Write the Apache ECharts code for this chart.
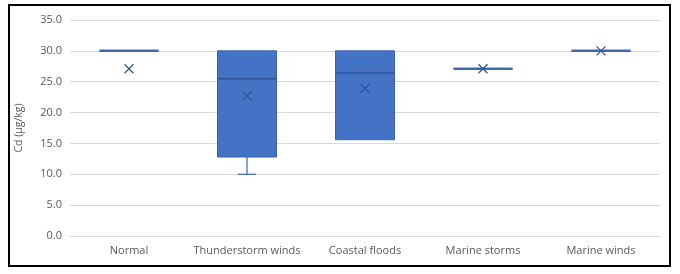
<!DOCTYPE html>
<html><head><meta charset="utf-8">
<script src="https://cdn.jsdelivr.net/npm/echarts@6/dist/echarts.min.js"></script>
<style>html,body{margin:0;padding:0;background:#fff;}#c{width:680px;height:274px;}</style>
</head><body><div id="c"></div>
<script>
const categories = ['Normal', 'Thunderstorm winds', 'Coastal floods', 'Marine storms', 'Marine winds'];
const minVals    = [30.0, 10.0, 15.6, 27.1, 30.0];
const q1Vals     = [30.0, 12.8, 15.6, 27.1, 30.0];
const medianVals = [30.0, 25.5, 26.4, 27.1, 30.0];
const q3Vals     = [30.0, 30.0, 30.0, 27.1, 30.0];
const maxVals    = [30.0, 30.0, 30.0, 27.1, 30.0];
const meanVals   = [27.1, 22.7, 23.9, 27.1, 30.0];
const yTicks = [0, 5, 10, 15, 20, 25, 30, 35];

const data = categories.map((c, i) => [i, minVals[i], q1Vals[i], medianVals[i], q3Vals[i], maxVals[i], meanVals[i]]);

const fillC = '#4472C4';
const lineC = '#3A63AE';
const darkC = '#2F5597';

function renderItem(params, api) {
  const x = api.value(0);
  const mn = api.coord([x, api.value(1)]);
  const q1 = api.coord([x, api.value(2)]);
  const md = api.coord([x, api.value(3)]);
  const q3 = api.coord([x, api.value(4)]);
  const mx = api.coord([x, api.value(5)]);
  const mean = api.coord([x, api.value(6)]);
  const cw = api.size([1, 0])[0];
  const bw = cw * 0.5;
  const capW = cw * 0.155;
  const cx = q1[0];
  const children = [];
  if (Math.abs(q1[1] - mn[1]) > 0.5) {
    children.push({type: 'line', shape: {x1: cx, y1: q1[1], x2: cx, y2: mn[1]}, style: {stroke: lineC, lineWidth: 1.2}});
    children.push({type: 'line', shape: {x1: cx - capW / 2, y1: mn[1], x2: cx + capW / 2, y2: mn[1]}, style: {stroke: lineC, lineWidth: 1.2}});
  }
  if (Math.abs(q3[1] - mx[1]) > 0.5) {
    children.push({type: 'line', shape: {x1: cx, y1: q3[1], x2: cx, y2: mx[1]}, style: {stroke: lineC, lineWidth: 1.2}});
    children.push({type: 'line', shape: {x1: cx - capW / 2, y1: mx[1], x2: cx + capW / 2, y2: mx[1]}, style: {stroke: lineC, lineWidth: 1.2}});
  }
  const h = q1[1] - q3[1];
  if (h > 0.5) {
    children.push({type: 'rect', shape: {x: cx - bw / 2, y: q3[1], width: bw, height: h}, style: {fill: fillC, stroke: lineC, lineWidth: 1}});
  } else {
    children.push({type: 'line', shape: {x1: cx - bw / 2, y1: q3[1], x2: cx + bw / 2, y2: q3[1]}, style: {stroke: lineC, lineWidth: 2}});
  }
  children.push({type: 'line', shape: {x1: cx - bw / 2, y1: md[1], x2: cx + bw / 2, y2: md[1]}, style: {stroke: h > 0.5 ? darkC : lineC, lineWidth: h > 0.5 ? 1.5 : 2}});
  const s = 4.5;
  children.push({type: 'line', shape: {x1: mean[0] - s, y1: mean[1] - s, x2: mean[0] + s, y2: mean[1] + s}, style: {stroke: darkC, lineWidth: 1.2}});
  children.push({type: 'line', shape: {x1: mean[0] - s, y1: mean[1] + s, x2: mean[0] + s, y2: mean[1] - s}, style: {stroke: darkC, lineWidth: 1.2}});
  return {type: 'group', children};
}

const chart = echarts.init(document.getElementById('c'), null, {renderer: 'canvas'});
chart.setOption({
  animation: false,
  backgroundColor: '#fff',
  grid: {left: 70, right: 20, top: 20, bottom: 38},
  xAxis: {
    type: 'category', data: categories,
    axisLine: {show: true, lineStyle: {color: '#d9d9d9', width: 1}},
    axisTick: {show: false},
    axisLabel: {interval: 0, color: '#595959', fontFamily: 'Open Sans', fontSize: 11, margin: 9}
  },
  yAxis: {
    type: 'value', min: yTicks[0], max: yTicks[yTicks.length - 1], interval: 5,
    name: 'Cd (μg/kg)', nameLocation: 'middle', nameGap: 45, nameRotate: 90,
    nameTextStyle: {color: '#595959', fontFamily: 'Open Sans', fontSize: 10.5},
    axisLine: {show: false}, axisTick: {show: false},
    axisLabel: {color: '#595959', fontFamily: 'Open Sans', fontSize: 11, margin: 8, formatter: v => v.toFixed(1)},
    splitLine: {lineStyle: {color: '#d9d9d9', width: 1}}
  },
  graphic: [{type: 'rect', shape: {x: 9, y: 5, width: 661, height: 261}, style: {fill: 'none', stroke: '#000', lineWidth: 2}, z: 100}],
  series: [{
    type: 'custom', renderItem, data,
    encode: {x: 0, y: [1, 2, 3, 4, 5, 6]}
  }]
});
</script></body></html>
